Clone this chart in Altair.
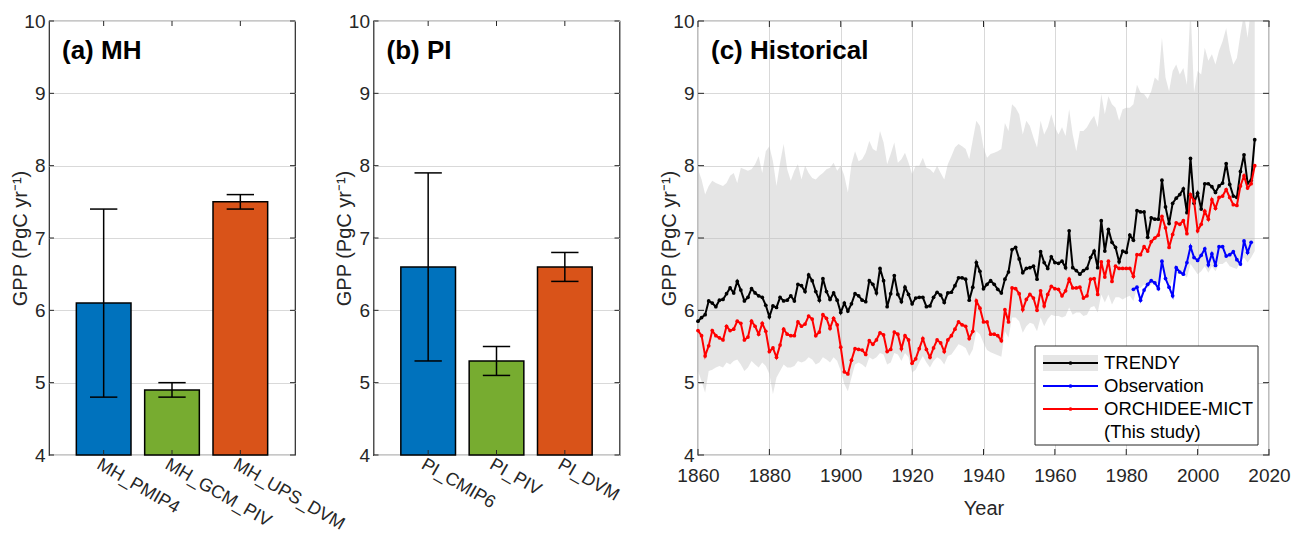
import altair as alt
import pandas as pd

FONT = "Liberation Sans"
INK = "#262626"

# ---------------- data ----------------
mh_names = ["MH_PMIP4", "MH_GCM_PIV", "MH_UPS_DVM"]
mh_mean = [6.1, 4.9, 7.5]
mh_low = [4.8, 4.8, 7.4]
mh_high = [7.4, 5.0, 7.6]

pi_names = ["PI_CMIP6", "PI_PIV", "PI_DVM"]
pi_mean = [6.6, 5.3, 6.6]
pi_low = [5.3, 5.1, 6.4]
pi_high = [7.9, 5.5, 6.8]

bar_colors = ["#0072BD", "#77AC30", "#D95319"]

first_year = 1860
trendy = [
    5.85, 5.90, 5.94, 6.13, 6.10, 6.05, 6.14, 6.15, 6.23, 6.31,
    6.24, 6.40, 6.28, 6.13, 6.18, 6.30, 6.24, 6.20, 6.18, 6.07,
    5.91, 6.06, 6.04, 6.18, 6.13, 6.14, 6.20, 6.13, 6.36, 6.34,
    6.26, 6.49, 6.41, 6.26, 6.14, 6.44, 6.26, 6.15, 6.24, 6.14,
    5.97, 6.10, 5.99, 6.09, 6.23, 6.20, 6.14, 6.12, 6.41, 6.36,
    6.24, 6.58, 6.41, 6.05, 6.23, 6.48, 6.22, 6.12, 6.32, 6.22,
    6.09, 6.17, 6.18, 6.18, 6.05, 6.06, 6.18, 6.25, 6.21, 6.11,
    6.24, 6.25, 6.34, 6.45, 6.45, 6.43, 6.14, 6.32, 6.66, 6.54,
    6.30, 6.36, 6.41, 6.36, 6.29, 6.24, 6.43, 6.53, 6.84, 6.87,
    6.71, 6.52, 6.58, 6.59, 6.61, 6.43, 6.81, 6.66, 6.58, 6.74,
    6.66, 6.65, 6.68, 6.59, 7.10, 6.59, 6.55, 6.50, 6.55, 6.58,
    6.73, 6.82, 6.59, 7.24, 6.82, 7.12, 6.94, 6.87, 6.67, 6.82,
    6.80, 7.04, 6.97, 7.38, 7.36, 7.36, 7.01, 7.28, 7.26, 7.26,
    7.80, 7.43, 7.20, 7.48, 7.55, 7.60, 7.68, 7.35, 8.10, 7.48,
    7.62, 7.40, 7.75, 7.75, 7.71, 7.63, 7.72, 7.76, 8.03, 7.74,
    7.58, 7.56, 7.92, 8.15, 7.76, 7.80, 8.36,
]
trendy_max = [
    7.95, 7.81, 7.60, 7.72, 7.79, 7.76, 7.74, 7.72, 7.76, 7.86,
    7.90, 7.76, 7.97, 7.95, 7.93, 7.95, 8.02, 8.13, 7.90, 8.20,
    8.27, 8.06, 7.72, 8.04, 8.30, 7.95, 7.79, 7.93, 8.02, 7.81,
    8.00, 7.90, 7.83, 7.81, 7.86, 7.90, 7.95, 7.97, 8.04, 7.93,
    8.00, 7.86, 7.63, 8.02, 8.20, 8.06, 8.09, 8.18, 8.34, 8.23,
    8.20, 8.48, 8.32, 8.02, 8.16, 8.32, 8.04, 8.09, 8.18, 8.04,
    7.88, 8.00, 8.00, 8.11, 7.97, 7.95, 7.90, 8.00, 7.90, 7.81,
    8.02, 8.13, 8.25, 8.30, 8.27, 8.23, 8.09, 8.36, 8.62, 8.55,
    8.25, 8.11, 8.16, 8.18, 8.20, 8.23, 8.59, 8.48, 8.85, 8.80,
    8.71, 8.43, 8.62, 8.55, 8.39, 8.25, 8.62, 8.43, 8.53, 8.71,
    8.53, 8.43, 8.53, 8.41, 8.78, 8.43, 8.20, 8.48, 8.48, 8.53,
    8.62, 8.69, 8.53, 8.99, 8.71, 8.96, 8.85, 8.80, 8.62, 8.78,
    8.80, 8.80, 8.85, 9.12, 9.01, 8.99, 8.92, 9.03, 9.22, 9.17,
    9.77, 9.22, 9.03, 9.31, 9.40, 9.26, 9.35, 9.12, 10.20, 9.01,
    9.31, 9.26, 9.63, 9.45, 9.54, 9.40, 9.59, 9.72, 9.90, 9.59,
    9.40, 9.49, 9.82, 10.10, 9.77, 10.20, 10.30,
]
trendy_min = [
    5.16, 5.02, 4.86, 5.16, 5.18, 5.21, 5.23, 5.21, 5.28, 5.25,
    5.30, 5.32, 5.25, 5.16, 5.21, 5.30, 5.25, 5.21, 5.28, 5.23,
    5.12, 4.84, 5.07, 5.16, 5.25, 5.21, 5.21, 5.23, 5.30, 5.28,
    5.30, 5.35, 5.32, 5.25, 5.28, 5.35, 5.32, 5.28, 5.35, 5.30,
    5.16, 4.98, 4.88, 5.07, 5.25, 5.28, 5.25, 5.21, 5.35, 5.32,
    5.35, 5.41, 5.39, 5.25, 5.28, 5.41, 5.39, 5.30, 5.41, 5.35,
    5.14, 5.18, 5.28, 5.37, 5.28, 5.21, 5.30, 5.35, 5.32, 5.25,
    5.37, 5.39, 5.46, 5.53, 5.51, 5.48, 5.37, 5.46, 5.71, 5.67,
    5.55, 5.45, 5.42, 5.40, 5.38, 5.36, 5.71, 5.62, 5.90, 5.90,
    5.85, 5.69, 5.78, 5.83, 5.81, 5.71, 5.90, 5.78, 5.88, 5.94,
    5.92, 5.92, 5.90, 5.92, 6.04, 5.94, 5.97, 5.97, 5.92, 5.94,
    6.04, 6.06, 5.97, 6.22, 6.11, 6.22, 6.08, 6.18, 6.18, 6.15,
    6.18, 6.20, 6.13, 6.31, 6.31, 6.36, 6.31, 6.36, 6.38, 6.36,
    6.57, 6.45, 6.31, 6.43, 6.52, 6.50, 6.50, 6.45, 6.64, 6.57,
    6.50, 6.54, 6.61, 6.52, 6.61, 6.54, 6.64, 6.64, 6.68, 6.61,
    6.59, 6.57, 6.68, 6.73, 6.66, 6.73, 6.82,
]
orchidee = [
    5.72, 5.65, 5.37, 5.51, 5.72, 5.65, 5.62, 5.59, 5.78, 5.72,
    5.74, 5.85, 5.82, 5.59, 5.63, 5.85, 5.78, 5.67, 5.82, 5.71,
    5.43, 5.48, 5.35, 5.52, 5.74, 5.67, 5.65, 5.65, 5.84, 5.78,
    5.81, 5.92, 5.88, 5.65, 5.70, 5.94, 5.89, 5.75, 5.89, 5.80,
    5.49, 5.15, 5.12, 5.31, 5.47, 5.46, 5.45, 5.39, 5.58, 5.53,
    5.59, 5.69, 5.66, 5.43, 5.46, 5.70, 5.67, 5.47, 5.65, 5.59,
    5.27, 5.33, 5.47, 5.61, 5.46, 5.35, 5.48, 5.59, 5.55, 5.43,
    5.59, 5.65, 5.74, 5.84, 5.80, 5.78, 5.61, 5.71, 6.13, 6.03,
    5.84, 5.84, 5.67, 5.67, 5.65, 5.58, 6.01, 5.84, 6.31, 6.30,
    6.23, 6.01, 6.15, 6.22, 6.17, 6.00, 6.27, 6.06, 6.22, 6.33,
    6.30, 6.29, 6.20, 6.27, 6.43, 6.31, 6.31, 6.32, 6.17, 6.20,
    6.43, 6.44, 6.22, 6.67, 6.46, 6.68, 6.40, 6.61, 6.58, 6.58,
    6.58, 6.58, 6.47, 6.77, 6.77, 6.88, 6.82, 6.95, 7.00, 7.04,
    7.30, 7.14, 6.87, 7.05, 7.21, 7.19, 7.24, 7.06, 7.60, 7.51,
    7.10, 7.19, 7.37, 7.26, 7.53, 7.41, 7.56, 7.58, 7.67, 7.56,
    7.46, 7.45, 7.72, 7.86, 7.69, 7.75, 8.00,
]
obs_first_year = 1982
observation = [
    6.29, 6.32, 6.14, 6.28, 6.36, 6.41, 6.38, 6.30, 6.68, 6.44,
    6.32, 6.20, 6.59, 6.53, 6.50, 6.66, 6.88, 6.73, 6.69, 6.76,
    6.85, 6.63, 6.78, 6.62, 6.88, 6.88, 6.75, 6.77, 6.81, 6.70,
    6.64, 6.96, 6.80, 6.94,
]

y_ticks = [4, 5, 6, 7, 8, 9, 10]
year_ticks = [1860, 1880, 1900, 1920, 1940, 1960, 1980, 2000, 2020]
legend_labels = ["TRENDY", "Observation", "ORCHIDEE-MICT", "(This study)"]
legend_colors = ["#000000", "#0000FF", "#FF0000"]
y_title = "GPP (PgC yr\u207b\u00b9)"

# ---------------- layout / style ----------------
W_BAR, W_TS, H = 246, 571, 434
Y_DOM = [4, 10]
YEAR_DOM = [1860, 2020]
TICK_LEN = 5
BAND_FILL = "#bdbdbd"
BAND_OPACITY = 0.4
LABEL_SIZE = 19
TITLE_SIZE = 20

yscale = alt.Scale(domain=Y_DOM, nice=False, zero=False)
yaxis = alt.Axis(values=y_ticks, grid=True, title=y_title, labelPadding=4,
                 titlePadding=0, minExtent=19, maxExtent=19)


def Yc(field):
    return alt.Y(field, type="quantitative", scale=yscale, axis=yaxis, title=y_title)


def panel_title(text, w):
    return alt.Chart(pd.DataFrame({"t": [text]})).mark_text(
        align="left", baseline="alphabetic", font=FONT, fontSize=26,
        fontWeight="bold", color="black"
    ).encode(text="t:N", x=alt.value(13), y=alt.value(38))


def y_inward_ticks(w):
    ydf = pd.DataFrame({"v": y_ticks})
    left = alt.Chart(ydf).mark_rule(color=INK, strokeWidth=1).encode(
        y=Yc("v"), x=alt.value(0), x2=alt.value(TICK_LEN))
    right = alt.Chart(ydf).mark_rule(color=INK, strokeWidth=1).encode(
        y=Yc("v"), x=alt.value(w - TICK_LEN), x2=alt.value(w))
    return [left, right]


def bar_panel(names, mean, low, high, title):
    n = len(names)
    df = pd.DataFrame({"pos": list(range(1, n + 1)), "name": names,
                       "mean": mean, "low": low, "high": high,
                       "color": bar_colors[:n]})
    xscale = alt.Scale(domain=[0.2, n + 0.8], nice=False, zero=False)
    label_expr = "[" + ",".join("'%s'" % s for s in names) + "][datum.value - 1]"
    xaxis = alt.Axis(values=list(range(1, n + 1)), labelExpr=label_expr,
                     labelAngle=30, labelAlign="left", labelBaseline="middle",
                     labelPadding=8, labelOffset=-6, labelFontSize=18,
                     grid=False, labelFlush=False,
                     labelOverlap=False, labelBound=False)

    def Xc(field):
        return alt.X(field, type="quantitative", scale=xscale, axis=xaxis, title=None)

    base = alt.Chart(df).transform_calculate(
        x0="datum.pos - 0.4", x1="datum.pos + 0.4",
        c0="datum.pos - 0.2", c1="datum.pos + 0.2")
    bars = base.mark_bar(stroke="black", strokeWidth=1.5).encode(
        x=Xc("x0"), x2="x1:Q", y=Yc("mean"), y2=alt.value(H),
        color=alt.Color("color:N", scale=None))
    err = base.mark_rule(color="black", strokeWidth=1.5).encode(
        x=Xc("pos"), y=Yc("low"), y2="high:Q")
    cap_lo = base.mark_rule(color="black", strokeWidth=1.5).encode(
        x=Xc("c0"), x2="c1:Q", y=Yc("low"))
    cap_hi = base.mark_rule(color="black", strokeWidth=1.5).encode(
        x=Xc("c0"), x2="c1:Q", y=Yc("high"))
    xdf = pd.DataFrame({"pos": list(range(1, n + 1))})
    top_t = alt.Chart(xdf).mark_rule(color=INK).encode(
        x=Xc("pos"), y=alt.value(0), y2=alt.value(TICK_LEN))
    bot_t = alt.Chart(xdf).mark_rule(color=INK).encode(
        x=Xc("pos"), y=alt.value(H - TICK_LEN), y2=alt.value(H))
    layers = [bars, err, cap_lo, cap_hi, top_t, bot_t] + y_inward_ticks(W_BAR) + [panel_title(title, W_BAR)]
    return alt.layer(*layers).properties(width=W_BAR, height=H)


pa = bar_panel(mh_names, mh_mean, mh_low, mh_high, "(a) MH")
pb = bar_panel(pi_names, pi_mean, pi_low, pi_high, "(b) PI")

# ---------------- time series panel ----------------
years = list(range(first_year, first_year + len(trendy)))
ts = pd.DataFrame({"year": years, "trendy": trendy, "hi": trendy_max,
                   "lo": trendy_min, "orch": orchidee})
obs_df = pd.DataFrame({"year": list(range(obs_first_year, obs_first_year + len(observation))),
                       "obs": observation})

xscale_ts = alt.Scale(domain=YEAR_DOM, nice=False, zero=False)
xaxis_ts = alt.Axis(values=year_ticks, format="d", grid=True, labelPadding=11,
                    titlePadding=13, labelFlush=False, labelOverlap=False)


def Xt(field):
    return alt.X(field, type="quantitative", scale=xscale_ts, axis=xaxis_ts, title="Year")


band = alt.Chart(ts).mark_area(color=BAND_FILL, opacity=BAND_OPACITY, clip=True).encode(
    x=Xt("year"), y=Yc("lo"), y2="hi:Q")


def series(df, field, color):
    return alt.Chart(df).mark_line(
        color=color, strokeWidth=2,
        point=alt.OverlayMarkDef(color=color, filled=True, size=14)
    ).encode(x=Xt("year"), y=Yc(field))


l_trendy = series(ts, "trendy", legend_colors[0])
l_obs = series(obs_df, "obs", legend_colors[1])
l_orch = series(ts, "orch", legend_colors[2])

ydf = pd.DataFrame({"v": y_ticks})
tdf = pd.DataFrame({"yr": year_ticks})
ts_ticks = [
    alt.Chart(ydf).mark_rule(color=INK).encode(y=Yc("v"), x=alt.value(0), x2=alt.value(6)),
    alt.Chart(ydf).mark_rule(color=INK).encode(y=Yc("v"), x=alt.value(W_TS - 6), x2=alt.value(W_TS)),
    alt.Chart(tdf).mark_rule(color=INK).encode(x=Xt("yr"), y=alt.value(0), y2=alt.value(6)),
    alt.Chart(tdf).mark_rule(color=INK).encode(x=Xt("yr"), y=alt.value(H - 6), y2=alt.value(H)),
]


# legend drawn inside the plot (positions in plot pixels, converted to data units)
def px_year(px):
    return YEAR_DOM[0] + px * (YEAR_DOM[1] - YEAR_DOM[0]) / W_TS


def px_val(py):
    return Y_DOM[1] - py * (Y_DOM[1] - Y_DOM[0]) / H


LEG_BOX = (337, 560, 325, 424)
LEG_LINE = (345, 400)
LEG_TEXT_X = 406
LEG_ROWS = [342, 365, 388, 411]

box_df = pd.DataFrame({"x0": [px_year(LEG_BOX[0])], "x1": [px_year(LEG_BOX[1])],
                       "y0": [px_val(LEG_BOX[2])], "y1": [px_val(LEG_BOX[3])]})
leg_box = alt.Chart(box_df).mark_rect(fill="white", stroke=INK, strokeWidth=1).encode(
    x=Xt("x0"), x2="x1:Q", y=Yc("y0"), y2="y1:Q")
patch_df = pd.DataFrame({"x0": [px_year(LEG_LINE[0])], "x1": [px_year(LEG_LINE[1])],
                         "y0": [px_val(LEG_ROWS[0] - 8)], "y1": [px_val(LEG_ROWS[0] + 8)]})
leg_patch = alt.Chart(patch_df).mark_rect(color=BAND_FILL, opacity=BAND_OPACITY).encode(
    x=Xt("x0"), x2="x1:Q", y=Yc("y0"), y2="y1:Q")
line_df = pd.DataFrame({"x0": [px_year(LEG_LINE[0])] * 3, "x1": [px_year(LEG_LINE[1])] * 3,
                        "xm": [px_year((LEG_LINE[0] + LEG_LINE[1]) / 2)] * 3,
                        "y": [px_val(r) for r in LEG_ROWS[:3]], "c": legend_colors})
leg_lines = alt.Chart(line_df).mark_rule(strokeWidth=2).encode(
    x=Xt("x0"), x2="x1:Q", y=Yc("y"), color=alt.Color("c:N", scale=None))
leg_dots = alt.Chart(line_df).mark_point(filled=True, size=14, opacity=1).encode(
    x=Xt("xm"), y=Yc("y"), color=alt.Color("c:N", scale=None))
text_df = pd.DataFrame({"t": legend_labels, "x": [px_year(LEG_TEXT_X)] * 4,
                        "y": [px_val(r) for r in LEG_ROWS]})
leg_text = alt.Chart(text_df).mark_text(align="left", baseline="middle", font=FONT,
                                        fontSize=18.5, color="black").encode(
    x=Xt("x"), y=Yc("y"), text="t:N")

pc = alt.layer(band, l_trendy, l_obs, l_orch, *ts_ticks, leg_box, leg_patch, leg_lines,
               leg_dots, leg_text, panel_title("(c) Historical", W_TS)
               ).properties(width=W_TS, height=H)

chart = alt.hconcat(pa, pb, pc, spacing=78.5, bounds="flush").properties(
    padding={"left": 1, "top": 3, "right": 5, "bottom": 5}
).configure_axis(
    labelFont=FONT, titleFont=FONT, labelFontSize=LABEL_SIZE, titleFontSize=TITLE_SIZE,
    labelColor=INK, titleColor=INK, titleFontWeight="normal",
    gridColor="#d9d9d9", gridWidth=1, domain=False, ticks=False, tickSize=0
).configure_view(stroke=INK, strokeWidth=1.2)

chart.save("out.html", embed_options={"renderer": "svg", "actions": False})
